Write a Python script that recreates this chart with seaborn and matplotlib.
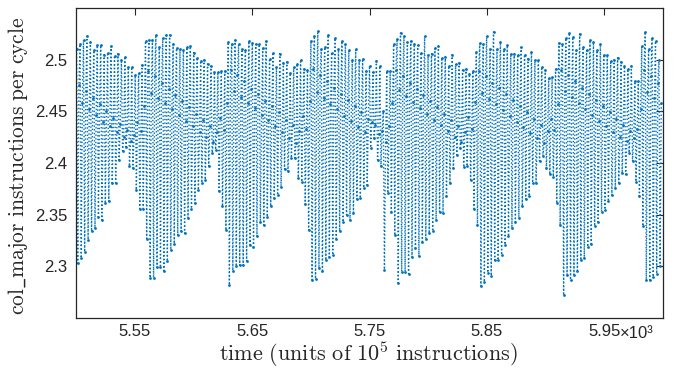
import numpy as np
import pandas as pd
import matplotlib
matplotlib.use("Agg")
import matplotlib.pyplot as plt
import seaborn as sns

# ---------- data (IPC spikes: top, bottom, middle band) ----------
# one entry per spike, grouped by the ~72-unit "sawtooth" cycles
tops_a = [2.510, 2.515, 2.519, 2.523, 2.517, 2.509, 2.514, 2.514, 2.505, 2.507,
          2.513, 2.504, 2.506, 2.500, 2.503, 2.493, 2.493, 2.485, 2.487, 2.495]
bots_a = [2.303, 2.308, 2.314, 2.326, 2.334, 2.337, 2.348, 2.345, 2.361, 2.363,
          2.381, 2.381, 2.403, 2.412, 2.416, 2.397, 2.395, 2.374, 2.356, 2.356]
mids_a = [2.476, 2.458, 2.470, 2.452, 2.463, 2.447, 2.457, 2.440, 2.450, 2.436,
          2.444, 2.430, 2.438, 2.425, 2.432, 2.421, 2.427, 2.440, 2.431, 2.455]

tops_b = [2.518, 2.519, 2.519, 2.524, 2.512, 2.521, 2.524, 2.524, 2.515, 2.511,
          2.510, 2.509, 2.512, 2.513, 2.507, 2.502, 2.499, 2.500, 2.496, 2.494,
          2.488, 2.488, 2.489, 2.489]
bots_b = [2.327, 2.289, 2.289, 2.299, 2.299, 2.296, 2.305, 2.316, 2.322, 2.330,
          2.334, 2.332, 2.347, 2.356, 2.361, 2.374, 2.381, 2.384, 2.397, 2.410,
          2.413, 2.373, 2.358, 2.335]
mids_b = [2.489, 2.468, 2.484, 2.463, 2.478, 2.458, 2.472, 2.452, 2.466, 2.447,
          2.460, 2.441, 2.454, 2.436, 2.448, 2.430, 2.442, 2.425, 2.436, 2.420,
          2.430, 2.444, 2.432, 2.458]

tops_c = [2.517, 2.515, 2.519, 2.515, 2.510, 2.509, 2.518, 2.516, 2.515, 2.515,
          2.511, 2.518, 2.501, 2.507, 2.493, 2.506, 2.497, 2.498, 2.487, 2.493,
          2.496, 2.500, 2.491, 2.490]
bots_c = [2.282, 2.296, 2.300, 2.301, 2.301, 2.305, 2.321, 2.319, 2.329, 2.343,
          2.340, 2.348, 2.358, 2.366, 2.369, 2.377, 2.394, 2.392, 2.405, 2.405,
          2.386, 2.382, 2.360, 2.335]
mids_c = [2.490, 2.470, 2.485, 2.464, 2.479, 2.458, 2.472, 2.453, 2.467, 2.447,
          2.460, 2.442, 2.455, 2.436, 2.449, 2.430, 2.442, 2.424, 2.437, 2.419,
          2.431, 2.446, 2.433, 2.460]

tops_d = [2.518, 2.523, 2.528, 2.510, 2.512, 2.524, 2.507, 2.521, 2.510, 2.518,
          2.515, 2.509, 2.500, 2.510, 2.500, 2.501, 2.489, 2.494, 2.488, 2.499,
          2.494, 2.450, 2.489, 2.489]
bots_d = [2.287, 2.288, 2.298, 2.296, 2.306, 2.309, 2.311, 2.327, 2.334, 2.343,
          2.350, 2.345, 2.352, 2.365, 2.366, 2.376, 2.379, 2.415, 2.424, 2.403,
          2.397, 2.297, 2.371, 2.353]
mids_d = [2.491, 2.469, 2.485, 2.463, 2.479, 2.457, 2.473, 2.452, 2.467, 2.446,
          2.461, 2.441, 2.455, 2.435, 2.449, 2.430, 2.443, 2.440, 2.437, 2.428,
          2.431, 2.420, 2.436, 2.458]

tops_e = [2.515, 2.520, 2.526, 2.523, 2.517, 2.518, 2.515, 2.514, 2.507, 2.523,
          2.505, 2.506, 2.511, 2.513, 2.502, 2.503, 2.494, 2.505, 2.496, 2.497,
          2.490, 2.491, 2.486, 2.489]
bots_e = [2.330, 2.284, 2.295, 2.295, 2.293, 2.309, 2.318, 2.310, 2.324, 2.327,
          2.332, 2.334, 2.345, 2.353, 2.352, 2.368, 2.381, 2.395, 2.408, 2.415,
          2.396, 2.397, 2.384, 2.356]
mids_e = [2.490, 2.471, 2.484, 2.465, 2.478, 2.459, 2.472, 2.453, 2.466, 2.448,
          2.460, 2.442, 2.454, 2.437, 2.448, 2.431, 2.442, 2.425, 2.436, 2.420,
          2.430, 2.445, 2.433, 2.459]

tops_f = [2.508, 2.516, 2.515, 2.523, 2.510, 2.527, 2.510, 2.517, 2.510, 2.514,
          2.506, 2.506, 2.505, 2.512, 2.505, 2.501, 2.508, 2.500, 2.500, 2.493,
          2.490, 2.482, 2.483, 2.491]
bots_f = [2.340, 2.281, 2.285, 2.294, 2.291, 2.306, 2.306, 2.311, 2.321, 2.329,
          2.337, 2.343, 2.347, 2.358, 2.365, 2.368, 2.381, 2.381, 2.402, 2.407,
          2.395, 2.389, 2.387, 2.361]
mids_f = [2.489, 2.468, 2.484, 2.462, 2.478, 2.457, 2.473, 2.451, 2.467, 2.446,
          2.461, 2.440, 2.455, 2.435, 2.449, 2.429, 2.443, 2.424, 2.437, 2.419,
          2.431, 2.443, 2.432, 2.457]

tops_g = [2.516, 2.515, 2.521, 2.526, 2.522, 2.509, 2.525, 2.512, 2.509, 2.519,
          2.517, 2.509, 2.515, 2.505, 2.505, 2.499, 2.500, 2.502, 2.498, 2.494,
          2.491, 2.494, 2.479, 2.479]
bots_g = [2.340, 2.272, 2.292, 2.287, 2.292, 2.296, 2.306, 2.308, 2.319, 2.322,
          2.339, 2.343, 2.353, 2.355, 2.363, 2.369, 2.376, 2.381, 2.390, 2.389,
          2.410, 2.402, 2.382, 2.368]
mids_g = [2.490, 2.470, 2.485, 2.464, 2.479, 2.458, 2.473, 2.452, 2.467, 2.447,
          2.461, 2.441, 2.455, 2.436, 2.449, 2.430, 2.443, 2.425, 2.437, 2.421,
          2.431, 2.424, 2.433, 2.452]

tops_h = [2.513, 2.527, 2.510, 2.521, 2.518, 2.500]
bots_h = [2.339, 2.287, 2.287, 2.290, 2.293, 2.300]
mids_h = [2.490, 2.469, 2.484, 2.463, 2.478, 2.458]

x_ticks = [5550, 5650, 5750, 5850, 5950]
x_tick_labels = ["5.55", "5.65", "5.75", "5.85", "5.95"]
y_ticks = [2.30, 2.35, 2.40, 2.45, 2.50]
y_tick_labels = ["2.3", "2.35", "2.4", "2.45", "2.5"]

tops = tops_a + tops_b + tops_c + tops_d + tops_e + tops_f + tops_g + tops_h
bots = bots_a + bots_b + bots_c + bots_d + bots_e + bots_f + bots_g + bots_h
mids = mids_a + mids_b + mids_c + mids_d + mids_e + mids_f + mids_g + mids_h

ipc = []
for t, b, m in zip(tops, bots, mids):
    ipc += [t, b, m]
# one sample per ~1 unit of time, 5500 .. ~5999
time = np.linspace(5500.5, 5998.5, len(ipc))
df = pd.DataFrame({"time": time, "ipc": ipc})

# ---------- plot ----------
sns.set_style("white")
plt.rcParams["font.family"] = ["Liberation Sans", "DejaVu Sans"]
plt.rcParams["mathtext.fontset"] = "cm"

fig = plt.figure(figsize=(6.74, 3.69), dpi=100)
ax = fig.add_axes([0.1128, 0.138, 0.8709, 0.840])
sns.lineplot(data=df, x="time", y="ipc", ax=ax, sort=False, estimator=None,
             color="#0072BD", linestyle=":", linewidth=1.0,
             marker=".", markersize=4, markeredgewidth=0)

ax.set_xlim(5500, 6000)
ax.set_ylim(2.25, 2.55)
ax.set_xticks(x_ticks)
ax.set_xticklabels(x_tick_labels)
ax.set_yticks(y_ticks)
ax.set_yticklabels(y_tick_labels)
ax.tick_params(direction="in", length=5, width=0.8, top=True, right=True,
               labelsize=12, colors="#262626")
ax.tick_params(axis="x", pad=4)
ax.tick_params(axis="y", pad=6)
for s in ax.spines.values():
    s.set_visible(True)
    s.set_linewidth(0.9)
    s.set_color("#262626")
ax.text(0.926, -0.026, "\u00d710\u00b3", transform=ax.transAxes,
        ha="left", va="top", fontsize=12, color="#262626")

ax.set_xlabel("")
ax.set_ylabel("")
fig.text(0.546, 0.04, r"$\mathrm{time\ (units\ of\ 10^5\ instructions)}$",
         fontsize=16, ha="center", va="center", color="#262626")
fig.text(0.027, 0.55, r"$\mathrm{col\_major\ instructions\ per\ cycle}$",
         fontsize=15.5, ha="center", va="center", rotation=90, color="#262626")

fig.savefig("out.png", dpi=100)
